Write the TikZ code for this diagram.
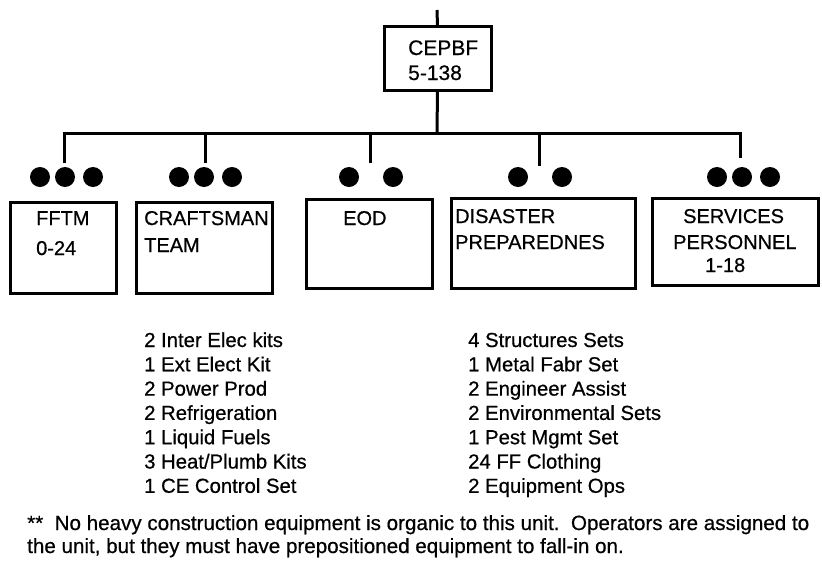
\documentclass[tikz,border=0pt]{standalone}
\usepackage{fontspec}
\setmainfont[FakeBold=0.6]{Liberation Sans}
\begin{document}
\begin{tikzpicture}[x=1pt,y=-1pt,
  line/.style={line width=3pt,line join=miter},
  unitbox/.style={draw,line width=3pt,inner sep=0pt,outer sep=0pt,anchor=center},
  dot/.style={circle,fill,inner sep=0pt,outer sep=0pt,minimum size=20pt},
  lbl/.style={anchor=base west,inner sep=0pt,font=\fontsize{20}{24}\selectfont},
  toplbl/.style={anchor=base west,inner sep=0pt,font=\fontsize{21}{25}\selectfont},
  item/.style={anchor=base west,inner sep=0pt,font=\fontsize{20.3}{24}\selectfont},
  note/.style={anchor=base west,inner sep=0pt,font=\fontsize{20.6}{24}\selectfont}]
\useasboundingbox (0,0) rectangle (822,568);
% boxes
\node[unitbox,minimum width=107pt,minimum height=64pt] (cepbf) at (437.5,58) {};
\node[unitbox,minimum width=106pt,minimum height=91pt] (fftm) at (63,247.5) {};
\node[unitbox,minimum width=136pt,minimum height=91pt] (craft) at (204,247.5) {};
\node[unitbox,minimum width=126pt,minimum height=89pt] (eod) at (369,243.5) {};
\node[unitbox,minimum width=184pt,minimum height=90pt] (dis) at (543,243) {};
\node[unitbox,minimum width=166pt,minimum height=87pt] (serv) at (735,241.5) {};
% labels
\node[toplbl] (t1) at (408,55) {CEPBF};
\node[toplbl] (t2) at (408,80) {5-138};
\node[lbl] (l1) at (36,225) {FFTM};
\node[lbl] (l2) at (36,255) {0-24};
\node[lbl] (l3) at (144,225) {CRAFTSMAN};
\node[lbl] (l4) at (144,252) {TEAM};
\node[lbl] (l5) at (343,225) {EOD};
\node[lbl] (l6) at (455,223) {DISASTER};
\node[lbl] (l7) at (455,249) {PREPAREDNES};
\node[lbl] (l8) at (683,223) {SERVICES};
\node[lbl] (l9) at (673,249) {PERSONNEL};
\node[lbl] (l10) at (705,272) {1-18};
% dots
\foreach \n/\x in {a1/40,a2/65,a3/93,b1/179,b2/204,b3/232,c1/349,c2/393,d1/518,d2/562,e1/717,e2/742,e3/770}
  \node[dot] (\n) at (\x,177) {};
% connectors
\coordinate (top) at (437,10);
\coordinate (k1) at (64,163);
\coordinate (k2) at (205,163);
\coordinate (k3) at (370,163);
\coordinate (k4) at (539,166);
\coordinate (k5) at (740,158);
\coordinate (bus) at (437,133);
\draw[line] (top) -- (cepbf.north);
\draw[line] (cepbf.south) -- (bus);
\draw[line] (k1) |- (bus) -| (k5);
\draw[line] (k2) -- (k2 |- bus);
\draw[line] (k3) -- (k3 |- bus);
\draw[line] (k4) -- (k4 |- bus);
% lists
\foreach \t [count=\i from 0] in {2 Inter Elec kits,1 Ext Elect Kit,2 Power Prod,2 Refrigeration,1 Liquid Fuels,3 Heat/Plumb Kits,1 CE Control Set}
  \node[item] (p\i) at (144,347+24.3*\i) {\t};
\foreach \t [count=\i from 0] in {4 Structures Sets,1 Metal Fabr Set,2 Engineer Assist,2 Environmental Sets,1 Pest Mgmt Set,24 FF Clothing,2 Equipment Ops}
  \node[item] (q\i) at (468,347+24.3*\i) {\t};
% footnote
\node[note] (n1) at (27,530) {**\ \ No heavy construction equipment is organic to this unit.\ \ Operators are assigned to};
\node[note] (n2) at (27,553) {the unit, but they must have prepositioned equipment to fall-in on.};
\end{tikzpicture}
\end{document}
